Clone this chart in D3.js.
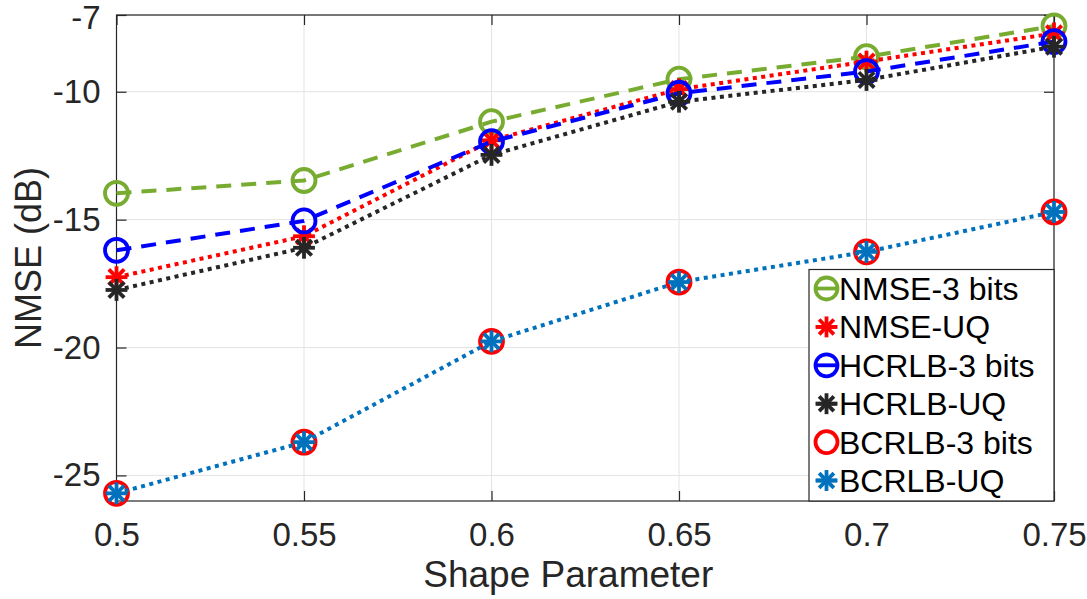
<!DOCTYPE html>
<html>
<head>
<meta charset="utf-8">
<script src="https://cdn.jsdelivr.net/npm/d3@7"></script>
<style>
  html, body { margin: 0; padding: 0; background: #fff; }
  svg { display: block; font-family: "Liberation Sans", Arial, Helvetica, sans-serif; }
</style>
</head>
<body>
<svg id="chart" width="1087" height="599"></svg>
<script>
// Shape parameter values on the x axis
const shapeParams = [0.5, 0.55, 0.6, 0.65, 0.7, 0.75];

// NMSE / bound curves in dB
const nmse3bits   = [-13.97, -13.47, -11.17, -9.51, -8.63, -7.43];
const nmseUQ      = [-17.25, -15.65, -11.90, -9.90, -8.82, -7.72];
const hcrlb3bits  = [-16.20, -15.05, -11.95, -10.06, -9.21, -8.04];
const hcrlbUQ     = [-17.75, -16.10, -12.47, -10.39, -9.54, -8.24];
const bcrlb3bits  = [-25.70, -23.70, -19.76, -17.44, -16.26, -14.70];
const bcrlbUQ     = [-25.70, -23.70, -19.76, -17.44, -16.26, -14.70];

const xTicks = [0.5, 0.55, 0.6, 0.65, 0.7, 0.75];
const xTickLabels = ["0.5", "0.55", "0.6", "0.65", "0.7", "0.75"];
const yTicks = [-25, -20, -15, -10, -7];
const yTickLabels = ["-25", "-20", "-15", "-10", "-7"];

const seriesNames = ["NMSE-3 bits", "NMSE-UQ", "HCRLB-3 bits", "HCRLB-UQ", "BCRLB-3 bits", "BCRLB-UQ"];

const dashed = "15,10";
const dotted = "4,4.5";
const series = [
  { name: seriesNames[0], values: nmse3bits,  color: "#77ac30", dash: dashed, marker: "circle", line: true },
  { name: seriesNames[1], values: nmseUQ,     color: "#ff0000", dash: dotted, marker: "star", line: true },
  { name: seriesNames[2], values: hcrlb3bits, color: "#0000ff", dash: dashed, marker: "circle", line: true },
  { name: seriesNames[3], values: hcrlbUQ,    color: "#262626", dash: dotted, marker: "star", line: true },
  { name: seriesNames[4], values: bcrlb3bits, color: "#ff0000", dash: null, marker: "circle", line: false },
  { name: seriesNames[5], values: bcrlbUQ,    color: "#0072bd", dash: dotted, marker: "star", line: true }
];

const svg = d3.select("#chart");
const pLeft = 116.5, pRight = 1054, pTop = 15, pBottom = 501;

const x = d3.scaleLinear().domain([0.5, 0.75]).range([pLeft, pRight]);
const y = d3.scaleLinear().domain([-26, -7]).range([pBottom, pTop]);

const axisColor = "#262626";
const gridColor = "#e3e3e3";

// grid
const grid = svg.append("g");
xTicks.forEach(t => {
  grid.append("line").attr("x1", x(t)).attr("x2", x(t)).attr("y1", pTop).attr("y2", pBottom)
    .attr("stroke", gridColor).attr("stroke-width", 1);
});
yTicks.forEach(t => {
  grid.append("line").attr("x1", pLeft).attr("x2", pRight).attr("y1", y(t)).attr("y2", y(t))
    .attr("stroke", gridColor).attr("stroke-width", 1);
});

// axes (ticks pointing inward)
const tickLen = 10;
const xAxisB = d3.axisBottom(x).tickValues(xTicks).tickFormat((d, i) => xTickLabels[i])
  .tickSizeInner(-tickLen).tickSizeOuter(0).tickPadding(22);
const xAxisT = d3.axisTop(x).tickValues(xTicks).tickFormat("").tickSizeInner(-tickLen).tickSizeOuter(0);
const yAxisL = d3.axisLeft(y).tickValues(yTicks).tickFormat((d, i) => yTickLabels[i])
  .tickSizeInner(-tickLen).tickSizeOuter(0).tickPadding(16);
const yAxisR = d3.axisRight(y).tickValues(yTicks).tickFormat("").tickSizeInner(-tickLen).tickSizeOuter(0);

function styleAxis(g) {
  g.select(".domain").remove();
  g.selectAll(".tick line").attr("stroke", axisColor).attr("stroke-width", 1.2);
  g.selectAll(".tick text").attr("fill", axisColor).style("font-size", "33px")
    .style("font-family", "'Liberation Sans', Arial, sans-serif");
}

svg.append("g").attr("transform", `translate(0,${pBottom})`).call(xAxisB).call(styleAxis);
svg.append("g").attr("transform", `translate(0,${pTop})`).call(xAxisT).call(styleAxis);
const yAxisG = svg.append("g").attr("transform", `translate(${pLeft},0)`).call(yAxisL).call(styleAxis);
svg.append("g").attr("transform", `translate(${pRight},0)`).call(yAxisR).call(styleAxis);
// keep the topmost label inside the canvas
yAxisG.selectAll(".tick text").filter(d => d === -7).attr("dy", "0.4em");

// frame
svg.append("rect").attr("x", pLeft).attr("y", pTop).attr("width", pRight - pLeft).attr("height", pBottom - pTop)
  .attr("fill", "none").attr("stroke", axisColor).attr("stroke-width", 1.2);

// axis labels
svg.append("text").attr("x", (pLeft + pRight) / 2 - 17).attr("y", 587)
  .attr("text-anchor", "middle").attr("fill", axisColor).style("font-size", "37px")
  .text("Shape Parameter");
svg.append("text").attr("transform", `translate(41,${(pTop + pBottom) / 2}) rotate(-90)`)
  .attr("text-anchor", "middle").attr("fill", axisColor).style("font-size", "36px")
  .text("NMSE (dB)");

// markers
function drawMarker(g, cx, cy, type, color, r) {
  if (type === "circle") {
    g.append("circle").attr("cx", cx).attr("cy", cy).attr("r", r)
      .attr("fill", "none").attr("stroke", color).attr("stroke-width", 3.8);
  } else {
    const s = r * 0.95;
    for (let k = 0; k < 4; k++) {
      const a = k * Math.PI / 4;
      g.append("line")
        .attr("x1", cx - s * Math.cos(a)).attr("y1", cy - s * Math.sin(a))
        .attr("x2", cx + s * Math.cos(a)).attr("y2", cy + s * Math.sin(a))
        .attr("stroke", color).attr("stroke-width", 3.8);
    }
  }
}

const line = d3.line().x((d, i) => x(shapeParams[i])).y(d => y(d));
const plot = svg.append("g");

series.forEach(s => {
  const g = plot.append("g");
  if (s.line) {
    g.append("path").datum(s.values).attr("d", line)
      .attr("fill", "none").attr("stroke", s.color).attr("stroke-width", 4)
      .attr("stroke-dasharray", s.dash);
  }
  s.values.forEach((v, i) => drawMarker(g, x(shapeParams[i]), y(v), s.marker, s.color, 11.5));
});

// legend
const lg = svg.append("g");
const lx = 809, ly = 269.5, lw = pRight - lx, lh = 501 - ly;
lg.append("rect").attr("x", lx).attr("y", ly).attr("width", lw).attr("height", lh)
  .attr("fill", "#fff").attr("stroke", axisColor).attr("stroke-width", 1.2);
series.forEach((s, i) => {
  const cy = 288.5 + i * 38.4;
  const cx = 826.5;
  if (s.line) {
    lg.append("line").attr("x1", cx - 11).attr("x2", cx + 11).attr("y1", cy).attr("y2", cy)
      .attr("stroke", s.color).attr("stroke-width", 3.8);
  }
  drawMarker(lg, cx, cy, s.marker, s.color, 11);
  lg.append("text").attr("x", 839).attr("y", cy).attr("dy", "0.36em")
    .attr("fill", "#000").style("font-size", "32px").text(s.name);
});
</script>
</body>
</html>
